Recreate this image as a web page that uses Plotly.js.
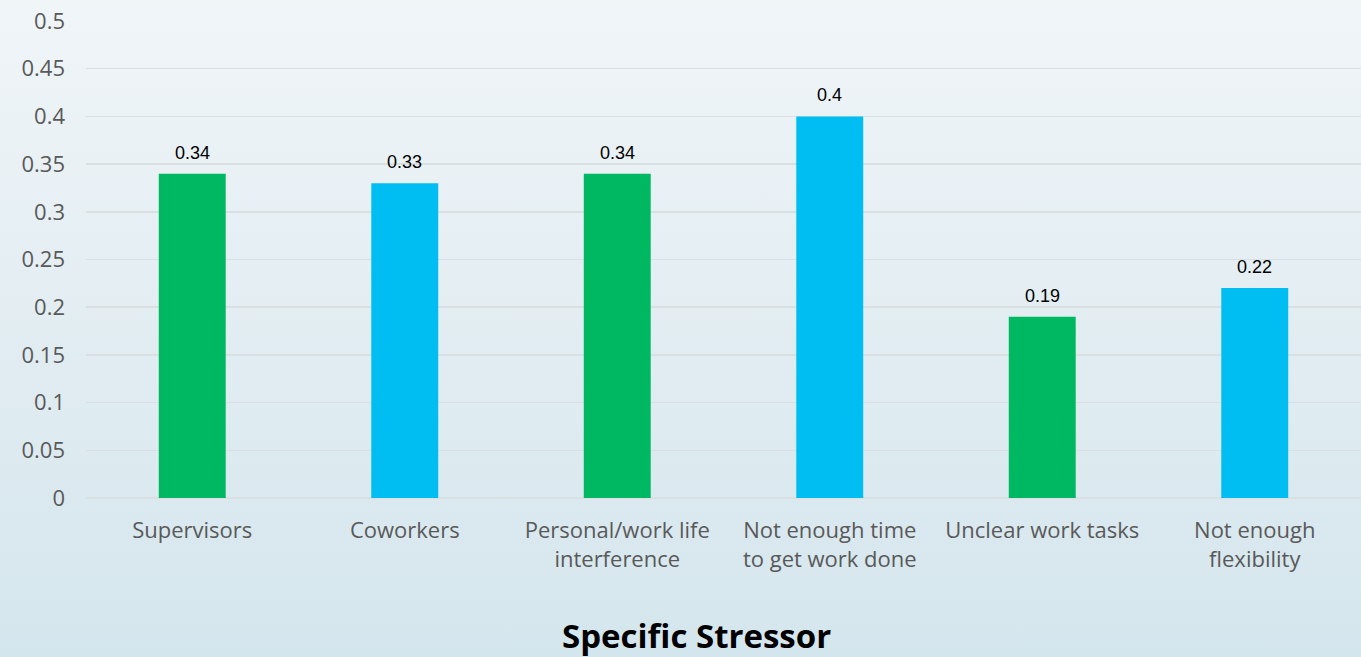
<!DOCTYPE html>
<html>
<head>
<meta charset="utf-8">
<script src="https://cdn.plot.ly/plotly-3.0.1.min.js"></script>
<style>
  html, body { margin: 0; padding: 0; width: 1361px; height: 657px; overflow: hidden; }
  body { background: linear-gradient(to bottom, #f0f5f8 0%, #e2edf2 50%, #d4e6ed 100%); }
  #chart { width: 1361px; height: 657px; }
</style>
</head>
<body>
<div id="chart"></div>
<script>
// Stressor categories and their scores
const categories = [
  "Supervisors",
  "Coworkers",
  "Personal/work life<br>interference",
  "Not enough time<br>to get work done",
  "Unclear work tasks",
  "Not enough<br>flexibility"
];
const values = [0.34, 0.33, 0.34, 0.4, 0.19, 0.22];
const barColors = ["#00b862", "#00bef2", "#00b862", "#00bef2", "#00b862", "#00bef2"];
const yTicks = [0, 0.05, 0.1, 0.15, 0.2, 0.25, 0.3, 0.35, 0.4, 0.45, 0.5];
const yTickText = ["0", "0.05", "0.1", "0.15", "0.2", "0.25", "0.3", "0.35", "0.4", "0.45", "0.5"];
const axisTitle = "Specific Stressor";

const trace = {
  type: "bar",
  x: categories,
  y: values,
  marker: { color: barColors },
  hoverinfo: "x+y"
};

// Value labels above each bar
const valueLabels = categories.map((c, i) => ({
  x: c,
  y: values[i],
  xref: "x", yref: "y",
  text: String(values[i]),
  showarrow: false,
  xanchor: "center",
  yanchor: "bottom",
  yshift: 9,
  font: { family: "Liberation Sans, Arial, sans-serif", size: 18, color: "#000000" }
}));

const layout = {
  width: 1361,
  height: 657,
  margin: { l: 86, r: 0, t: 21, b: 159 },
  paper_bgcolor: "rgba(0,0,0,0)",
  plot_bgcolor: "rgba(0,0,0,0)",
  bargap: 0.685,
  showlegend: false,
  xaxis: {
    type: "category",
    tickfont: { family: "Open Sans, sans-serif", size: 22, color: "#595959" },
    showgrid: false,
    showline: false,
    zeroline: false,
    ticks: "",
    ticklabelstandoff: 17
  },
  yaxis: {
    range: [0, 0.5],
    tickvals: yTicks,
    ticktext: yTickText,
    tickfont: { family: "Open Sans, sans-serif", size: 22, color: "#595959" },
    showgrid: true,
    gridcolor: "#dadfe2",
    gridwidth: 1.5,
    zeroline: true,
    zerolinecolor: "#dadfe2",
    zerolinewidth: 1.5,
    showline: false,
    ticks: "",
    ticklabelstandoff: 20
  },
  annotations: valueLabels.concat([{
    text: "<b>" + axisTitle + "</b>",
    xref: "paper", yref: "paper",
    x: 0.479, y: -0.289,
    xanchor: "center", yanchor: "middle",
    showarrow: false,
    font: { family: "Open Sans, sans-serif", size: 33, color: "#000000" }
  }])
};

Plotly.newPlot("chart", [trace], layout, { displayModeBar: false, staticPlot: true });
</script>
</body>
</html>
